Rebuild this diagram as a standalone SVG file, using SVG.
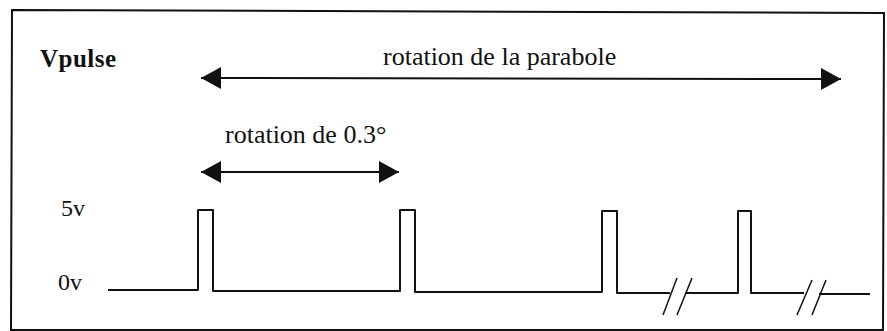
<svg xmlns="http://www.w3.org/2000/svg" width="887" height="331" viewBox="0 0 887 331">
<style>
.lbl{font-family:"Liberation Serif","Times New Roman",serif;font-size:26px;fill:#111}
.ax{font-family:"Liberation Serif","Times New Roman",serif;font-size:24px;fill:#111}
.ttl{font-family:"Liberation Serif","Times New Roman",serif;font-size:25px;font-weight:bold;fill:#111;letter-spacing:0.5px}
.ln{fill:none;stroke:#111;stroke-width:2}
.sig{fill:none;stroke:#111;stroke-width:2;stroke-linejoin:round}
.sl{stroke:#111;stroke-width:1.5}
</style>
<defs>
<marker id="ah" viewBox="0 0 20 22" refX="20" refY="11" markerWidth="20" markerHeight="22" markerUnits="userSpaceOnUse" orient="auto-start-reverse">
<path d="M0,0 L20,11 L0,22 Z" fill="#111"/>
</marker>
</defs>
<rect width="887" height="331" fill="#fff"/>
<g id="frame">
<path class="ln" d="M12,10 L884,13 L883,330 L11,330 Z"/>
</g>
<g id="title"><text class="ttl" x="40" y="67">Vpulse</text></g>
<g id="label-parabole"><text class="lbl" x="383" y="65">rotation de la parabole</text></g>
<g id="label-step"><text class="lbl" x="225" y="143">rotation de 0.3°</text></g>
<g id="axis-5v"><text class="ax" x="61" y="216">5v</text></g>
<g id="axis-0v"><text class="ax" x="58" y="290">0v</text></g>
<g id="connectors">
<line class="ln" x1="201" y1="78" x2="841" y2="79" marker-start="url(#ah)" marker-end="url(#ah)"/>
<line class="ln" x1="201" y1="172" x2="399" y2="172" marker-start="url(#ah)" marker-end="url(#ah)"/>
</g>
<g id="signal">
<path class="sig" d="M108,290 L198,290 L198,210 L213,210 L213,291 L400,291 L400,210 L415,210 L415,292 L602,292 L602,211 L617,211 L617,293 L670,293"/>
<path class="sig" d="M685,293 L738,293 L738,211 L751,211 L751,293 L804,293"/>
<path class="sig" d="M819,294 L870,294"/>
<line class="sl" x1="663" y1="315" x2="677" y2="278"/>
<line class="sl" x1="677" y1="315" x2="692" y2="278"/>
<line class="sl" x1="797" y1="315" x2="812" y2="280"/>
<line class="sl" x1="812" y1="315" x2="826" y2="280"/>
</g>
</svg>
